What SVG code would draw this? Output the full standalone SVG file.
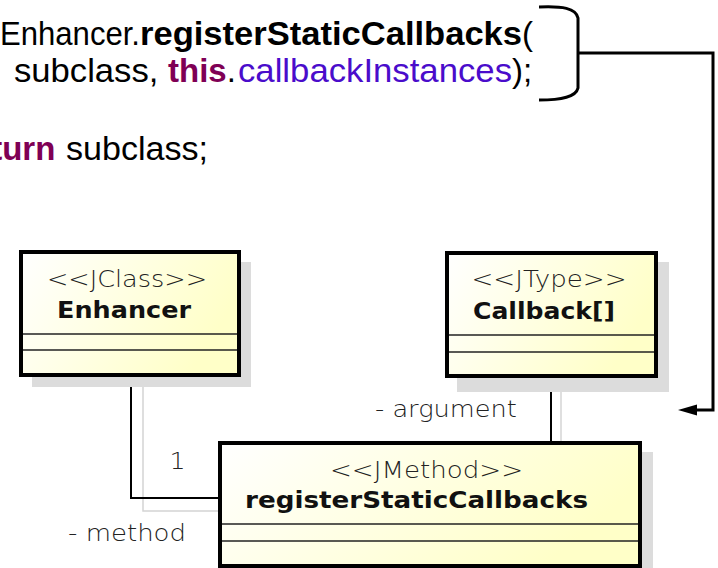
<svg xmlns="http://www.w3.org/2000/svg" width="718" height="568" viewBox="0 0 718 568">
<defs>
<linearGradient id="fill" x1="0" y1="0" x2="1" y2="0.35">
<stop offset="0" stop-color="#ffffff"/>
<stop offset="1" stop-color="#ffffc8"/>
</linearGradient>
<style>
.code{font-family:"Liberation Sans",Arial,sans-serif;font-size:33px;fill:#000}
.b{font-weight:bold}
.kw{fill:#7f0055;font-weight:bold}
.fld{fill:#4a0ccb}
.box{fill:url(#fill);stroke:#000;stroke-width:4}
.shadow{fill:#dcdcdc}
.sep{stroke:#222;stroke-width:1.5}
.st{font-family:"DejaVu Sans",sans-serif;font-size:23px;font-weight:300;fill:#222;text-anchor:middle}
.nm{font-family:"DejaVu Sans",sans-serif;font-size:23px;font-weight:bold;fill:#111;text-anchor:middle}
.lbl{font-family:"DejaVu Sans",sans-serif;font-size:23px;font-weight:300;fill:#222}
.edge{fill:none;stroke:#000;stroke-width:2}
.edgesh{fill:none;stroke:#d4d4d4;stroke-width:1.5}
.thick{fill:none;stroke:#000;stroke-width:3}
</style>
</defs>
<rect width="718" height="568" fill="#fff"/>

<g id="code">
<text class="code" y="45"><tspan x="0" textLength="140" lengthAdjust="spacingAndGlyphs">Enhancer.</tspan><tspan class="b" x="140" textLength="382" lengthAdjust="spacingAndGlyphs">registerStaticCallbacks</tspan><tspan x="522">(</tspan></text>
<text class="code" y="82"><tspan x="14" textLength="154" lengthAdjust="spacingAndGlyphs">subclass, </tspan><tspan class="kw" x="168">this</tspan><tspan>.</tspan><tspan class="fld" x="238" textLength="274" lengthAdjust="spacingAndGlyphs">callbackInstances</tspan><tspan x="512">);</tspan></text>
<text class="code" y="160"><tspan class="kw" x="-40">return</tspan><tspan x="66" textLength="142" lengthAdjust="spacingAndGlyphs">subclass;</tspan></text>
</g>

<g id="brace">
<path class="thick" d="M539,7 C562,6 576,8 578,18 V88 C576,97 562,100 539,100"/>
</g>

<g id="connectors">
<path class="edgesh" d="M143,387 V511 H233"/>
<path class="edge" d="M131,377 V498 H218"/>
<path class="edgesh" d="M561,392 V454"/>
<path class="edge" d="M551,378 V441"/>
<path class="thick" d="M578,53 H713 V410 H694"/>
<polygon points="678,410 697,404.5 697,415.5" fill="#000"/>
<g transform="translate(177.5,469) scale(1.1,1)"><text class="lbl" x="0" y="0" text-anchor="middle">1</text></g>
<g transform="translate(68,541) scale(1.1,1)"><text class="lbl" x="0" y="0" textLength="107.3" lengthAdjust="spacingAndGlyphs">- method</text></g>
<g transform="translate(375,417) scale(1.1,1)"><text class="lbl" x="0" y="0" textLength="129" lengthAdjust="spacingAndGlyphs">- argument</text></g>
</g>

<g id="enhancer">
<rect class="shadow" x="32" y="262" width="219" height="125"/>
<rect class="box" x="21" y="252" width="218" height="123"/>
<line class="sep" x1="23" y1="334" x2="237" y2="334"/>
<line class="sep" x1="23" y1="350" x2="237" y2="350"/>
<g transform="translate(127,287) scale(1.1,1)"><text class="st" x="0" y="0" textLength="145.5" lengthAdjust="spacingAndGlyphs">&lt;&lt;JClass&gt;&gt;</text></g>
<g transform="translate(124,318) scale(1.1,1)"><text class="nm" x="0" y="0" textLength="121.8" lengthAdjust="spacingAndGlyphs">Enhancer</text></g>
</g>

<g id="callback">
<rect class="shadow" x="457" y="262" width="212" height="130"/>
<rect class="box" x="447" y="253" width="209" height="123"/>
<line class="sep" x1="449" y1="335" x2="654" y2="335"/>
<line class="sep" x1="449" y1="352" x2="654" y2="352"/>
<g transform="translate(549,287) scale(1.1,1)"><text class="st" x="0" y="0" textLength="140.9" lengthAdjust="spacingAndGlyphs">&lt;&lt;JType&gt;&gt;</text></g>
<g transform="translate(544,319) scale(1.1,1)"><text class="nm" x="0" y="0" textLength="129.1" lengthAdjust="spacingAndGlyphs">Callback[]</text></g>
</g>

<g id="method">
<rect class="shadow" x="230" y="452" width="423" height="130"/>
<rect class="box" x="220" y="443" width="420" height="123"/>
<line class="sep" x1="222" y1="524" x2="638" y2="524"/>
<line class="sep" x1="222" y1="541" x2="638" y2="541"/>
<g transform="translate(426.5,478) scale(1.1,1)"><text class="st" x="0" y="0" textLength="175.5" lengthAdjust="spacingAndGlyphs">&lt;&lt;JMethod&gt;&gt;</text></g>
<g transform="translate(416.5,508) scale(1.1,1)"><text class="nm" x="0" y="0" textLength="311.8" lengthAdjust="spacingAndGlyphs">registerStaticCallbacks</text></g>
</g>
</svg>
